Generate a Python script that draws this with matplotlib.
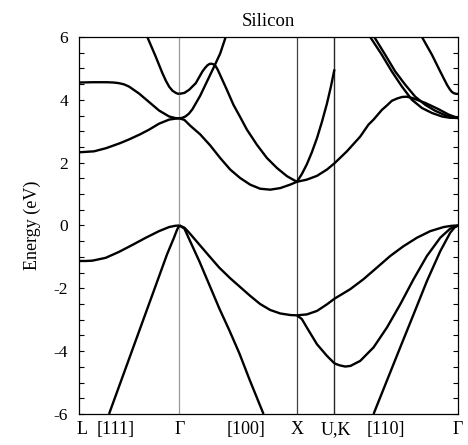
import matplotlib
matplotlib.use("Agg")
import matplotlib.pyplot as plt
from matplotlib.ticker import MultipleLocator

plt.rcParams["font.family"] = ["Liberation Serif", "DejaVu Serif"]
plt.rcParams["axes.unicode_minus"] = False

# High-symmetry points along the path (k in units of 2*pi/a)
SYM_K = [0.0, 0.866, 1.879, 2.203, 3.268]   # L, Gamma, X, U/K, Gamma

# x tick labels and where they sit
XLABELS = ["L", "[111]", "\u0393", "[100]", "X", "U,K", "[110]", "\u0393"]
XLABEL_K = [0.030, 0.319, 0.866, 1.441, 1.879, 2.218, 2.649, 3.268]

# ---- L -> Gamma (offsets from L) ----
lg_c_low_dk = [0, 0.129, 0.233, 0.354, 0.432, 0.526, 0.604, 0.690, 0.777, 0.830, 0.866]
lg_c_low_e = [2.33, 2.36, 2.46, 2.62, 2.74, 2.90, 3.05, 3.24, 3.37, 3.40, 3.41]
lg_c_mid_dk = [0, 0.12, 0.24, 0.300, 0.345, 0.390, 0.432, 0.518, 0.604, 0.690, 0.777, 0.830, 0.866]
lg_c_mid_e = [4.55, 4.56, 4.56, 4.55, 4.53, 4.49, 4.42, 4.20, 3.93, 3.66, 3.47, 3.42, 3.41]
lg_c_top_dk = [0.589, 0.662, 0.719, 0.750, 0.777, 0.806, 0.835, 0.852, 0.866]
lg_c_top_e = [6.0, 5.37, 4.85, 4.60, 4.42, 4.29, 4.22, 4.195, 4.19]
lg_v_top_dk = [0, 0.058, 0.115, 0.230, 0.345, 0.460, 0.576, 0.690, 0.777, 0.830, 0.866]
lg_v_top_e = [-1.13, -1.13, -1.12, -1.03, -0.84, -0.62, -0.39, -0.18, -0.05, -0.01, 0.0]
lg_v_low_dk = [0.259, 0.388, 0.518, 0.647, 0.759, 0.820, 0.846, 0.866]
lg_v_low_e = [-6.0, -4.69, -3.37, -2.06, -0.92, -0.38, -0.13, 0.0]

# ---- Gamma -> X (offsets from Gamma) ----
gx_c_p_dk = [0, 0.043, 0.084, 0.141, 0.198, 0.222, 0.242, 0.259, 0.276, 0.294, 0.311, 0.330,
             0.351, 0.409, 0.466, 0.524, 0.582, 0.668, 0.754, 0.841, 0.927, 1.013]
gx_c_p_e = [4.19, 4.22, 4.32, 4.53, 4.90, 5.02, 5.10, 5.14, 5.15, 5.13, 5.08, 4.96,
            4.79, 4.32, 3.84, 3.45, 3.05, 2.57, 2.15, 1.83, 1.57, 1.39]
gx_c_q_dk = [0, 0.026, 0.052, 0.082, 0.112, 0.179, 0.236, 0.302, 0.351, 0.399]
gx_c_q_e = [3.41, 3.43, 3.47, 3.56, 3.70, 4.13, 4.57, 5.08, 5.47, 6.0]
gx_c_r_dk = [0, 0.043, 0.092, 0.179, 0.265, 0.351, 0.438, 0.524, 0.610, 0.696,
             0.783, 0.869, 0.955, 1.013]
gx_c_r_e = [3.41, 3.36, 3.18, 2.90, 2.55, 2.15, 1.78, 1.51, 1.30, 1.17,
            1.14, 1.19, 1.30, 1.39]
gx_v_heavy_dk = [0, 0.043, 0.084, 0.170, 0.256, 0.343, 0.438, 0.524, 0.610, 0.696,
                 0.783, 0.869, 0.955, 1.013]
gx_v_heavy_e = [0.0, -0.07, -0.23, -0.60, -0.97, -1.34, -1.68, -1.96, -2.24, -2.50,
                -2.69, -2.80, -2.85, -2.86]
gx_v_light_dk = [0, 0.043, 0.086, 0.173, 0.259, 0.345, 0.432, 0.518, 0.604, 0.725]
gx_v_light_e = [0.0, -0.10, -0.45, -1.15, -1.90, -2.65, -3.35, -4.08, -4.90, -6.0]

# ---- X -> U (offsets from X) ----
xu_c_steep_dk = [0, 0.043, 0.086, 0.129, 0.173, 0.216, 0.259, 0.292, 0.324]
xu_c_steep_e = [1.39, 1.64, 1.95, 2.33, 2.78, 3.30, 3.88, 4.40, 4.97]
xu_c_flat_dk = [0, 0.086, 0.173, 0.259, 0.324]
xu_c_flat_e = [1.39, 1.46, 1.58, 1.78, 1.98]
xu_v_up_dk = [0, 0.086, 0.173, 0.259, 0.324]
xu_v_up_e = [-2.86, -2.83, -2.72, -2.51, -2.33]
xu_v_dn_dk = [0, 0.043, 0.086, 0.173, 0.259, 0.324]
xu_v_dn_e = [-2.86, -2.98, -3.25, -3.78, -4.15, -4.39]

# ---- K -> Gamma (offsets from K) ----
kg_c_flat_dk = [0, 0.107, 0.222, 0.293, 0.337, 0.409, 0.452, 0.495, 0.539, 0.582,
                0.622, 0.668, 0.783, 0.898, 0.984, 1.065]
kg_c_flat_e = [1.98, 2.36, 2.83, 3.21, 3.37, 3.68, 3.82, 3.97, 4.04, 4.09,
               4.10, 4.06, 3.90, 3.70, 3.53, 3.42]
kg_c_a_dk = [0.308, 0.409, 0.495, 0.582, 0.668, 0.754, 0.841, 0.927, 0.992, 1.065]
kg_c_a_e = [6.0, 5.43, 4.90, 4.42, 4.00, 3.74, 3.58, 3.47, 3.43, 3.42]
kg_c_b_dk = [0.343, 0.438, 0.524, 0.610, 0.696, 0.783, 0.869, 0.955, 1.010, 1.065]
kg_c_b_e = [6.0, 5.43, 4.90, 4.48, 4.10, 3.84, 3.65, 3.51, 3.45, 3.42]
kg_c_c_dk = [0.754, 0.841, 0.912, 0.970, 0.995, 1.013, 1.030, 1.048, 1.065]
kg_c_c_e = [6.0, 5.43, 4.90, 4.48, 4.33, 4.25, 4.21, 4.19, 4.19]
kg_v_up_dk = [0, 0.135, 0.250, 0.366, 0.481, 0.595, 0.711, 0.826, 0.941, 1.010, 1.065]
kg_v_up_e = [-2.33, -2.03, -1.71, -1.34, -0.97, -0.66, -0.39, -0.18, -0.05, -0.01, 0.0]
kg_v_mid_dk = [0, 0.043, 0.092, 0.138, 0.222, 0.337, 0.452, 0.567, 0.682, 0.797,
               0.912, 0.998, 1.065]
kg_v_mid_e = [-4.39, -4.45, -4.49, -4.47, -4.31, -3.88, -3.25, -2.51, -1.71, -0.97,
              -0.39, -0.10, 0.0]
kg_v_low_dk = [0.337, 0.452, 0.567, 0.682, 0.797, 0.912, 0.998, 1.036, 1.065]
kg_v_low_e = [-6.0, -4.94, -3.88, -2.83, -1.77, -0.82, -0.23, -0.06, 0.0]

# Segment index -> list of (offsets, energies)
SEGMENTS = {
    0: [(lg_c_low_dk, lg_c_low_e), (lg_c_mid_dk, lg_c_mid_e), (lg_c_top_dk, lg_c_top_e),
        (lg_v_top_dk, lg_v_top_e), (lg_v_low_dk, lg_v_low_e)],
    1: [(gx_c_p_dk, gx_c_p_e), (gx_c_q_dk, gx_c_q_e), (gx_c_r_dk, gx_c_r_e),
        (gx_v_heavy_dk, gx_v_heavy_e), (gx_v_light_dk, gx_v_light_e)],
    2: [(xu_c_steep_dk, xu_c_steep_e), (xu_c_flat_dk, xu_c_flat_e),
        (xu_v_up_dk, xu_v_up_e), (xu_v_dn_dk, xu_v_dn_e)],
    3: [(kg_c_flat_dk, kg_c_flat_e), (kg_c_a_dk, kg_c_a_e), (kg_c_b_dk, kg_c_b_e),
        (kg_c_c_dk, kg_c_c_e), (kg_v_up_dk, kg_v_up_e), (kg_v_mid_dk, kg_v_mid_e),
        (kg_v_low_dk, kg_v_low_e)],
}


def plot_bands() -> None:
    fig = plt.figure(figsize=(4.68, 4.45), dpi=100)
    ax = fig.add_axes([0.1688, 0.0697, 0.8098, 0.8472])

    # Dividers at the high-symmetry points
    ax.axvline(SYM_K[1], color="0.6", lw=0.9, zorder=1)
    ax.axvline(SYM_K[2], color="0.25", lw=0.9, zorder=1)
    ax.axvline(SYM_K[3], color="0.15", lw=1.0, zorder=1)

    # Bands, segment by segment
    for seg, curves in SEGMENTS.items():
        k0 = SYM_K[seg]
        for dk, e in curves:
            ax.plot([k0 + d for d in dk], e, color="black", lw=1.7,
                    solid_joinstyle="round", solid_capstyle="butt", zorder=2)

    ax.set_xlim(SYM_K[0], SYM_K[-1])
    ax.set_ylim(-6, 6)

    # Axis ticks and labels
    ax.set_xticks(XLABEL_K)
    ax.set_xticklabels(XLABELS, fontsize=13)
    ax.tick_params(axis="x", length=0, pad=5)
    ax.set_yticks([-6, -4, -2, 0, 2, 4, 6])
    ax.yaxis.set_minor_locator(MultipleLocator(0.5))
    ax.tick_params(axis="y", which="both", direction="in", left=True, right=True,
                   length=3.5, width=0.8, labelsize=12.5, pad=8)
    for sp in ax.spines.values():
        sp.set_linewidth(0.9)

    ax.set_ylabel("Energy (eV)", fontsize=13, labelpad=9)
    ax.set_title("Silicon", fontsize=13.5, pad=8)

    fig.savefig("out.png", dpi=100)
    plt.close(fig)


if __name__ == "__main__":
    plot_bands()
